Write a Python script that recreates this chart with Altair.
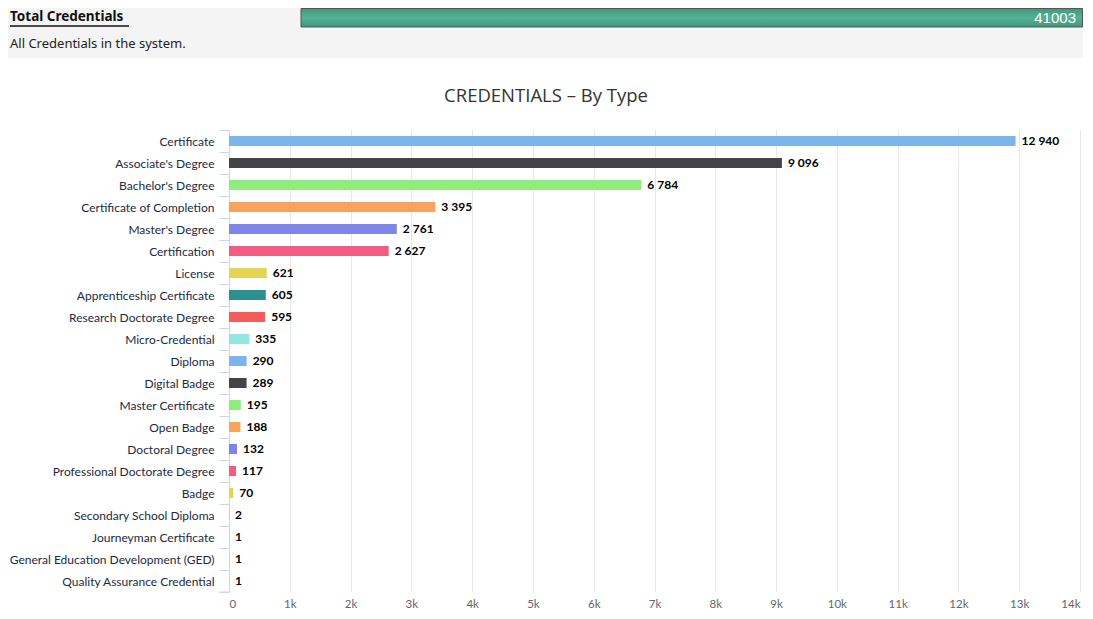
import altair as alt
import pandas as pd

categories = [
    "Certificate", "Associate's Degree", "Bachelor's Degree", "Certificate of Completion",
    "Master's Degree", "Certification", "License", "Apprenticeship Certificate",
    "Research Doctorate Degree", "Micro-Credential", "Diploma", "Digital Badge",
    "Master Certificate", "Open Badge", "Doctoral Degree", "Professional Doctorate Degree",
    "Badge", "Secondary School Diploma", "Journeyman Certificate",
    "General Education Development (GED)", "Quality Assurance Credential",
]
values = [12940, 9096, 6784, 3395, 2761, 2627, 621, 605, 595, 335, 290, 289,
          195, 188, 132, 117, 70, 2, 1, 1, 1]
palette = ["#7cb5ec", "#434348", "#90ed7d", "#f7a35c", "#8085e9",
           "#f15c80", "#e4d354", "#2b908f", "#f45b5b", "#91e8e1"]
x_ticks = list(range(0, 14001, 1000))
total_label = "41003"
header_title = "Total Credentials"
header_sub = "All Credentials in the system."
chart_title = "CREDENTIALS \u2013 By Type"

bar_colors = [palette[i % len(palette)] for i in range(len(categories))]
df = pd.DataFrame({"type": categories, "count": values})

W, H = 851, 462
PAD_L, PAD_T, PAD_R, PAD_B = 221, 122, 3, 19
OX, OY = 8 + PAD_L, 8 + PAD_T  # page position of plot origin


def px(v):
    return v - OX


def py(v):
    return v - OY


x_enc = alt.X("count:Q", scale=alt.Scale(domain=[0, 14000], nice=False),
              axis=alt.Axis(values=x_ticks, title=None, grid=True, gridColor="#e6e6e6",
                            domain=False, ticks=False, labelColor="#666666",
                            labelFont="Lato", labelFontSize=11.5, labelPadding=6,
                            labelExpr="datum.value == 0 ? '0' : (datum.value/1000) + 'k'"))
y_enc = alt.Y("type:N", sort=categories,
              scale=alt.Scale(paddingInner=0, paddingOuter=0),
              axis=alt.Axis(title=None, domainColor="#ccd6eb", tickColor="#ccd6eb",
                            tickSize=10, tickBand="extent", labelColor="#1b2a41",
                            labelFont="Lato", labelFontSize=12, labelPadding=5,
                            labelLimit=300))

base = alt.Chart(df)
bars = base.mark_bar(size=10).encode(
    x=x_enc, y=y_enc,
    color=alt.Color("type:N", scale=alt.Scale(domain=categories, range=bar_colors), legend=None),
)
labels = base.transform_calculate(
    lab="replace(format(datum.count, ','), ',', ' ')"
).mark_text(align="left", baseline="middle", dx=6, font="Lato", fontWeight="bold",
            fontSize=12, color="#000000").encode(
    x="count:Q", y=alt.Y("type:N", sort=categories), text="lab:N")

one = pd.DataFrame({"k": [0]})
hdr_bg = alt.Chart(one).mark_rect(color="#f4f4f4").encode(
    x=alt.value(-PAD_L), x2=alt.value(W + PAD_R), y=alt.value(-PAD_T), y2=alt.value(py(58)))
green = alt.Chart(one).mark_rect(
    fill=alt.Gradient(gradient="linear", x1=0, y1=0, x2=0, y2=1,
                      stops=[alt.GradientStop(color="#3f9a7c", offset=0),
                             alt.GradientStop(color="#55b193", offset=0.5),
                             alt.GradientStop(color="#3f9a7c", offset=1)]),
    stroke="#555555", strokeWidth=1).encode(
    x=alt.value(px(301)), x2=alt.value(W + PAD_R - 0.5),
    y=alt.value(py(8.5)), y2=alt.value(py(27)))
total_txt = alt.Chart(one).mark_text(align="right", baseline="middle", font="Liberation Sans",
                                     fontSize=15, color="#ffffff").encode(
    x=alt.value(W - 4), y=alt.value(py(18)), text=alt.value(total_label))
title1 = alt.Chart(one).mark_text(align="left", baseline="middle", font="Noto Sans",
                                  fontWeight="bold", fontSize=13.5, color="#111111").encode(
    x=alt.value(px(10)), y=alt.value(py(17)), text=alt.value(header_title))
underline = alt.Chart(one).mark_rule(color="#111111", strokeWidth=1.3).encode(
    x=alt.value(px(10)), x2=alt.value(px(129)), y=alt.value(py(26)))
sub = alt.Chart(one).mark_text(align="left", baseline="middle", font="Noto Sans",
                               fontSize=13, color="#222222").encode(
    x=alt.value(px(10)), y=alt.value(py(44)), text=alt.value(header_sub))
ctitle = alt.Chart(one).mark_text(align="center", baseline="middle", font="Open Sans",
                                  fontSize=18.5, color="#333333").encode(
    x=alt.value(px(546)), y=alt.value(py(96)), text=alt.value(chart_title))
bottom_tick = alt.Chart(one).mark_rule(color="#ccd6eb").encode(
    x=alt.value(-10), x2=alt.value(0), y=alt.value(H))

chart = alt.layer(hdr_bg, green, total_txt, title1, underline, sub, ctitle,
                  bars, labels, bottom_tick).properties(
    width=W, height=H, autosize=alt.AutoSizeParams(type="none"),
    padding={"left": PAD_L, "top": PAD_T, "right": PAD_R, "bottom": PAD_B},
).configure(background="#ffffff").configure_view(stroke=None)

chart.save("out.html", embed_options={"renderer": "svg", "actions": False})
